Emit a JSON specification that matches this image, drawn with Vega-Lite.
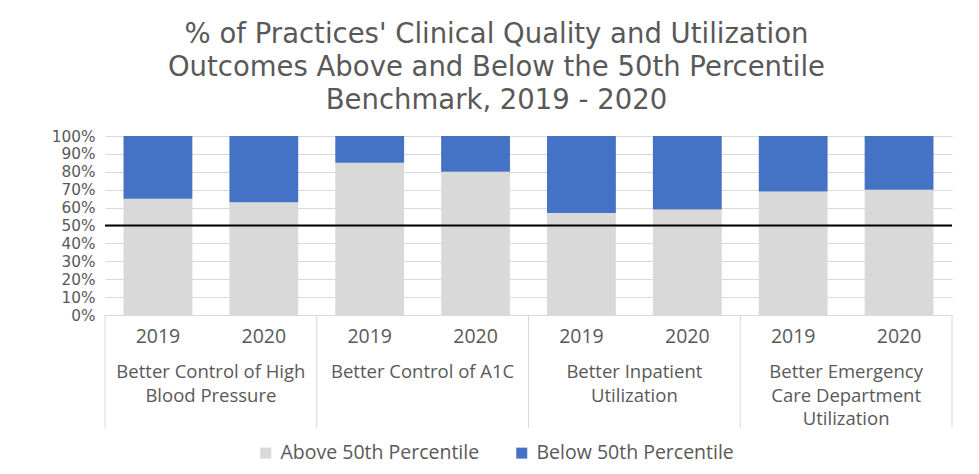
{
  "$schema": "https://vega.github.io/schema/vega-lite/v6.json",
  "width": 847,
  "height": 179,
  "autosize": "none",
  "padding": {"left": 105, "top": 136, "right": 27, "bottom": 159},
  "background": "white",
  "config": {
    "view": {"stroke": null},
    "font": "Open Sans",
    "axisY": {"labelFont": "DejaVu Sans", "labelFontSize": 15.3}
  },
  "title": {
    "text": ["% of Practices' Clinical Quality and Utilization", "Outcomes Above and Below the 50th Percentile", "Benchmark, 2019 - 2020"],
    "font": "DejaVu Sans",
    "fontSize": 27.5,
    "fontWeight": "normal",
    "color": "#595959",
    "lineHeight": 33,
    "anchor": "middle",
    "offset": 15,
    "dx": -32
  },
  "datasets": {
    "bars": [
      {"measure": "m1", "year": "2019", "key": "m1 2019", "series": "Above 50th Percentile", "value": 0.65},
      {"measure": "m1", "year": "2019", "key": "m1 2019", "series": "Below 50th Percentile", "value": 0.35},
      {"measure": "m1", "year": "2020", "key": "m1 2020", "series": "Above 50th Percentile", "value": 0.63},
      {"measure": "m1", "year": "2020", "key": "m1 2020", "series": "Below 50th Percentile", "value": 0.37},
      {"measure": "m2", "year": "2019", "key": "m2 2019", "series": "Above 50th Percentile", "value": 0.85},
      {"measure": "m2", "year": "2019", "key": "m2 2019", "series": "Below 50th Percentile", "value": 0.15},
      {"measure": "m2", "year": "2020", "key": "m2 2020", "series": "Above 50th Percentile", "value": 0.80},
      {"measure": "m2", "year": "2020", "key": "m2 2020", "series": "Below 50th Percentile", "value": 0.20},
      {"measure": "m3", "year": "2019", "key": "m3 2019", "series": "Above 50th Percentile", "value": 0.57},
      {"measure": "m3", "year": "2019", "key": "m3 2019", "series": "Below 50th Percentile", "value": 0.43},
      {"measure": "m3", "year": "2020", "key": "m3 2020", "series": "Above 50th Percentile", "value": 0.59},
      {"measure": "m3", "year": "2020", "key": "m3 2020", "series": "Below 50th Percentile", "value": 0.41},
      {"measure": "m4", "year": "2019", "key": "m4 2019", "series": "Above 50th Percentile", "value": 0.69},
      {"measure": "m4", "year": "2019", "key": "m4 2019", "series": "Below 50th Percentile", "value": 0.31},
      {"measure": "m4", "year": "2020", "key": "m4 2020", "series": "Above 50th Percentile", "value": 0.70},
      {"measure": "m4", "year": "2020", "key": "m4 2020", "series": "Below 50th Percentile", "value": 0.30}
    ],
    "groups": [
      {"measure": "m1", "label": "Better Control of High\nBlood Pressure"},
      {"measure": "m2", "label": "Better Control of A1C"},
      {"measure": "m3", "label": "Better Inpatient\nUtilization"},
      {"measure": "m4", "label": "Better Emergency\nCare Department\nUtilization"}
    ]
  },
  "layer": [
    {
      "data": {"name": "bars"},
      "mark": {"type": "bar"},
      "encoding": {
        "x": {
          "field": "key", "type": "nominal", "sort": null,
          "scale": {"type": "band", "paddingInner": 0.35, "paddingOuter": 0.175},
          "axis": {"title": null, "labelExpr": "slice(datum.label, -4)", "labelAngle": 0, "ticks": false,
                   "domainColor": "#d9d9d9", "labelFontSize": 19.5, "labelColor": "#595959", "labelPadding": 12}
        },
        "y": {
          "field": "value", "type": "quantitative", "stack": "zero",
          "scale": {"domain": [0, 1], "nice": false},
          "axis": {"title": null, "format": ".0%", "values": [0, 0.1, 0.2, 0.3, 0.4, 0.5, 0.6, 0.7, 0.8, 0.9, 1],
                   "domain": false, "ticks": false, "grid": true, "gridColor": "#d9d9d9", "gridWidth": 1,
                   "labelOverlap": false, "labelFlush": false,
                   "labelColor": "#595959", "labelPadding": 10}
        },
        "color": {
          "field": "series", "type": "nominal",
          "scale": {"domain": ["Above 50th Percentile", "Below 50th Percentile"], "range": ["#d9d9d9", "#4472c4"]},
          "legend": {"title": null, "orient": "none", "legendX": 151, "legendY": 307, "direction": "horizontal",
                     "symbolType": "square", "symbolSize": 121, "symbolStrokeWidth": 0, "labelFontSize": 19.5,
                     "labelColor": "#595959", "labelLimit": 400, "columnPadding": 32, "labelOffset": 5}
        },
        "order": {"field": "series", "sort": "ascending"}
      }
    },
    {
      "data": {"name": "groups"},
      "layer": [
        {
          "mark": {"type": "text", "baseline": "top", "align": "center", "lineBreak": "\n", "fontSize": 18.5,
                   "color": "#595959", "lineHeight": 23.5},
          "encoding": {
            "x": {"field": "measure", "type": "nominal", "sort": null, "bandPosition": 0.5,
                  "scale": {"type": "band", "paddingInner": 0, "paddingOuter": 0}, "axis": null},
            "y": {"datum": -0.27, "type": "quantitative", "scale": {"domain": [0, 1], "nice": false},
                  "axis": {"title": null, "format": ".0%", "values": [0, 0.1, 0.2, 0.3, 0.4, 0.5, 0.6, 0.7, 0.8, 0.9, 1],
                   "domain": false, "ticks": false, "grid": true, "gridColor": "#d9d9d9", "gridWidth": 1,
                   "labelOverlap": false, "labelFlush": false,
                   "labelColor": "#595959", "labelPadding": 10}},
            "text": {"field": "label"}
          }
        },
        {
          "mark": {"type": "rule", "color": "#d9d9d9", "strokeWidth": 1},
          "encoding": {
            "x": {"field": "measure", "type": "nominal", "sort": null, "bandPosition": 0,
                  "scale": {"type": "band", "paddingInner": 0, "paddingOuter": 0}, "axis": null},
            "y": {"datum": 0, "type": "quantitative", "scale": {"domain": [0, 1], "nice": false},
                  "axis": {"title": null, "format": ".0%", "values": [0, 0.1, 0.2, 0.3, 0.4, 0.5, 0.6, 0.7, 0.8, 0.9, 1],
                   "domain": false, "ticks": false, "grid": true, "gridColor": "#d9d9d9", "gridWidth": 1,
                   "labelOverlap": false, "labelFlush": false,
                   "labelColor": "#595959", "labelPadding": 10}},
            "y2": {"datum": -0.63}
          }
        },
        {
          "transform": [{"filter": "datum.measure === 'm4'"}],
          "mark": {"type": "rule", "color": "#d9d9d9", "strokeWidth": 1},
          "encoding": {
            "x": {"field": "measure", "type": "nominal", "sort": null, "bandPosition": 1,
                  "scale": {"type": "band", "paddingInner": 0, "paddingOuter": 0}, "axis": null},
            "y": {"datum": 0, "type": "quantitative", "scale": {"domain": [0, 1], "nice": false},
                  "axis": {"title": null, "format": ".0%", "values": [0, 0.1, 0.2, 0.3, 0.4, 0.5, 0.6, 0.7, 0.8, 0.9, 1],
                   "domain": false, "ticks": false, "grid": true, "gridColor": "#d9d9d9", "gridWidth": 1,
                   "labelOverlap": false, "labelFlush": false,
                   "labelColor": "#595959", "labelPadding": 10}},
            "y2": {"datum": -0.63}
          }
        }
      ]
    },
    {
      "data": {"values": [{"benchmark": 0.5}]},
      "mark": {"type": "rule", "color": "black", "strokeWidth": 2},
      "encoding": {
        "y": {"field": "benchmark", "type": "quantitative", "scale": {"domain": [0, 1], "nice": false},
              "axis": {"title": null, "format": ".0%", "values": [0, 0.1, 0.2, 0.3, 0.4, 0.5, 0.6, 0.7, 0.8, 0.9, 1],
                   "domain": false, "ticks": false, "grid": true, "gridColor": "#d9d9d9", "gridWidth": 1,
                   "labelOverlap": false, "labelFlush": false,
                   "labelColor": "#595959", "labelPadding": 10}}
      }
    }
  ],
  "resolve": {"scale": {"x": "independent"}, "axis": {"x": "independent"}}
}
